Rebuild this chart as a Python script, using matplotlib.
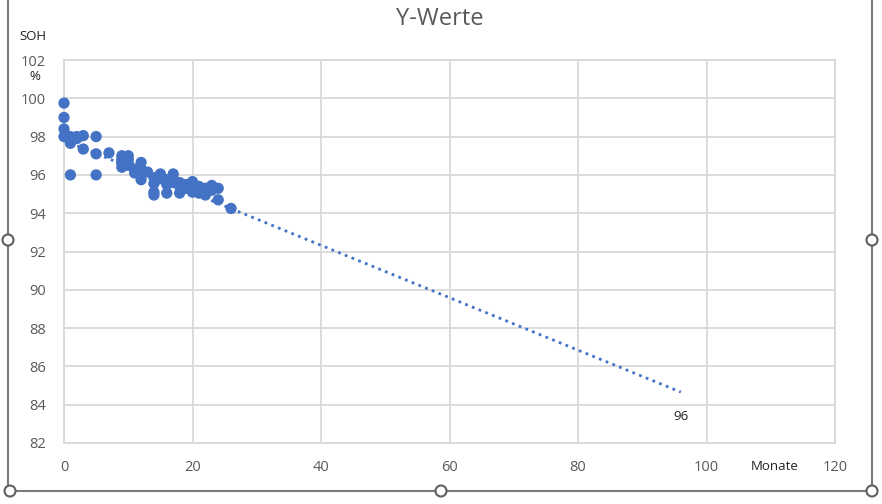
import matplotlib
matplotlib.use('Agg')
import matplotlib.pyplot as plt
from matplotlib.lines import Line2D
from matplotlib.patches import Circle

# months / SOH values
monate = [0, 0, 0, 0,
          1, 1, 1, 1,
          2, 2,
          3, 3,
          5, 5, 5,
          7,
          9, 9, 9, 9, 9,
          10, 10, 10, 10,
          11, 11,
          12, 12, 12, 12,
          13,
          14, 14, 14, 14,
          15, 15,
          16, 16, 16,
          17, 17, 17,
          18, 18, 18,
          19, 19,
          20, 20, 20, 20,
          21, 21, 21,
          22, 22, 22,
          23, 23,
          24, 24,
          26]
soh = [99.75, 99.0, 98.4, 98.0,
       97.8, 97.65, 96.0, 98.0,
       97.9, 98.0,
       98.05, 97.35,
       98.0, 97.1, 96.0,
       97.15,
       97.0, 96.8, 96.6, 96.4, 96.7,
       97.0, 96.8, 96.5, 96.6,
       96.3, 96.1,
       96.65, 96.0, 95.75, 96.3,
       96.15,
       95.85, 95.55, 94.95, 95.1,
       96.05, 95.8,
       95.75, 95.05, 95.5,
       96.05, 95.8, 95.6,
       95.6, 95.05, 95.4,
       95.5, 95.3,
       95.65, 95.3, 95.1, 95.45,
       95.2, 95.4, 95.05,
       95.3, 94.95, 95.15,
       95.45, 95.2,
       95.3, 94.7,
       94.25]

# linear trend line (Excel trendline, forecast to 96 months)
trend_x = [0, 96]
trend_y = [97.8, 84.66]

x_ticks = [0, 20, 40, 60, 80, 100, 120]
y_ticks = [82, 84, 86, 88, 90, 92, 94, 96, 98, 100, 102]

BLUE = '#4472C4'
GRID = '#d9d9d9'
TXT = '#595959'
W, H = 882, 504

plt.rcParams['font.family'] = ['Open Sans', 'DejaVu Sans']

fig = plt.figure(figsize=(W / 100, H / 100), dpi=100)
ax = fig.add_axes([64 / W, 1 - 443 / H, (835 - 64) / W, (443 - 60) / H])

ax.plot(trend_x, trend_y, linestyle=(0, (1, 1.6)), color=BLUE, linewidth=2, zorder=2)
ax.scatter(monate, soh, s=66, color=BLUE, edgecolors='none', zorder=3, clip_on=False)

ax.set_xlim(0, 120)
ax.set_ylim(82, 102)
ax.set_xticks(x_ticks)
ax.set_yticks(y_ticks)
ax.grid(color=GRID, linewidth=1.3)
ax.set_axisbelow(True)
for s in ax.spines.values():
    s.set_color(GRID)
    s.set_linewidth(1.3)
ax.tick_params(length=0, labelsize=10.5, labelcolor=TXT)
ax.tick_params(axis='y', pad=13)
ax.tick_params(axis='x', pad=12)

ax.text(96, 83.4, '96', ha='center', va='center', fontsize=9.5, color='#222222')

fig.text(440 / W, 1 - 19 / H, 'Y-Werte', ha='center', va='center', fontsize=17, color=TXT)
fig.text(33 / W, 1 - 37 / H, 'SOH', ha='center', va='center', fontsize=9.5, color='#222222')
fig.text(35 / W, 1 - 77 / H, '%', ha='center', va='center', fontsize=9.5, color='#222222')
fig.text(775 / W, 1 - 466 / H, 'Monate', ha='center', va='center', fontsize=9.5, color='#222222')

# chart frame with selection handles
frame_col = '#7a7a7a'
def fx(px):
    return px / W
def fy(py):
    return 1 - py / H
fig.add_artist(Line2D([fx(8), fx(8)], [fy(0), fy(491)], color=frame_col, linewidth=1.5))
fig.add_artist(Line2D([fx(872), fx(872)], [fy(0), fy(491)], color=frame_col, linewidth=1.5))
fig.add_artist(Line2D([fx(8), fx(872)], [fy(491), fy(491)], color=frame_col, linewidth=1.5))
for hx, hy in [(8, 240), (872, 240), (10, 491), (441, 491), (872, 491)]:
    fig.add_artist(Circle((hx, H - hy), 5.5, transform=None, facecolor='white',
                          edgecolor='#606060', linewidth=1.5, zorder=10))

fig.savefig('out.png', dpi=100)
